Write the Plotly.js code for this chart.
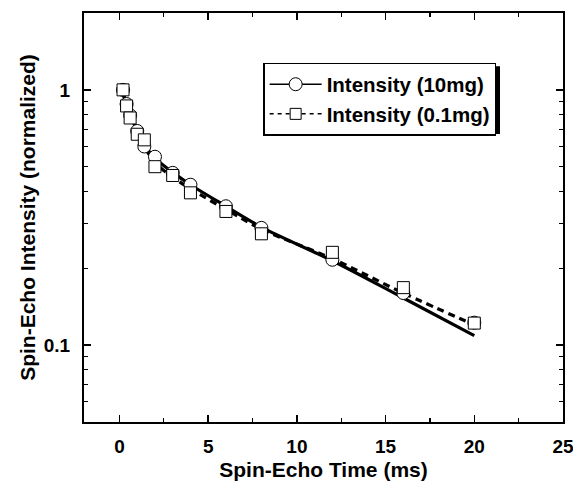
<!DOCTYPE html>
<html>
<head>
<meta charset="utf-8">
<script src="https://cdn.plot.ly/plotly-3.0.1.min.js"></script>
<style>html,body{margin:0;padding:0;background:#fff;}#chart{width:573px;height:484px;}</style>
</head>
<body>
<div id="chart"></div>
<script>
// Measured points
const time10 = [0.2, 0.4, 0.6, 1.0, 1.4, 2, 3, 4, 6, 8, 12, 16, 20];
const intensity10 = [1.0, 0.88, 0.795, 0.69, 0.60, 0.547, 0.473, 0.425, 0.35, 0.288, 0.216, 0.16, 0.1225];
const time01 = [0.2, 0.4, 0.6, 1.0, 1.4, 2, 3, 4, 6, 8, 12, 16, 20];
const intensity01 = [1.0, 0.865, 0.776, 0.67, 0.637, 0.50, 0.462, 0.395, 0.334, 0.273, 0.231, 0.168, 0.122];
// Fit curves
const fitTime10 = [0.2, 0.4, 0.6, 1.0, 1.4, 2, 3, 4, 6, 8, 12, 16, 20];
const fitIntensity10 = [0.97, 0.88, 0.80, 0.69, 0.61, 0.54, 0.475, 0.425, 0.35, 0.29, 0.214, 0.153, 0.109];
const fitTime01 = [0.2, 0.4, 0.6, 1.0, 1.4, 2, 3, 4, 6, 8, 12, 16, 20];
const fitIntensity01 = [0.97, 0.87, 0.79, 0.68, 0.60, 0.52, 0.455, 0.41, 0.34, 0.285, 0.218, 0.16, 0.12];
const seriesNames = ["Intensity (10mg)", "Intensity (0.1mg)"];
const xTickVals = [0, 5, 10, 15, 20, 25];
const yTickVals = [0.1, 1];
const yTickText = ["0.1", "1"];

const F = "Liberation Sans, Arial, sans-serif";
const traces = [
  {x: fitTime10, y: fitIntensity10, mode: "lines", line: {color: "#000", width: 3.2, shape: "spline"}, showlegend: false, hoverinfo: "skip"},
  {x: fitTime01, y: fitIntensity01, mode: "lines", line: {color: "#000", width: 3.2, dash: "7px,5px", shape: "spline"}, showlegend: false, hoverinfo: "skip"},
  {x: time10, y: intensity10, mode: "markers", marker: {symbol: "circle", size: 13, color: "#fff", line: {color: "#000", width: 1}}, showlegend: false},
  {x: time01, y: intensity01, mode: "markers", marker: {symbol: "square", size: 12, color: "#fff", line: {color: "#000", width: 1}}, showlegend: false},
  {x: [null], y: [null], name: seriesNames[0], mode: "lines+markers", line: {color: "#000", width: 1.5}, marker: {symbol: "circle", size: 13, color: "#fff", line: {color: "#000", width: 1}}},
  {x: [null], y: [null], name: seriesNames[1], mode: "lines+markers", line: {color: "#000", width: 1.5, dash: "4px,4px"}, marker: {symbol: "square", size: 11, color: "#fff", line: {color: "#000", width: 1}}}
];

const layout = {
  width: 573, height: 484,
  margin: {l: 84, r: 10, t: 13, b: 62},
  paper_bgcolor: "#fff", plot_bgcolor: "#fff",
  font: {family: F, color: "#000"},
  showlegend: true,
  xaxis: {
    range: [-2, 25], tickvals: xTickVals, ticktext: xTickVals.map(String),
    ticks: "inside", ticklen: 7, tickwidth: 1.5, tickcolor: "#000",
    showline: true, linewidth: 2, linecolor: "#000", mirror: "ticks",
    showgrid: false, zeroline: false, ticklabelstandoff: 6, ticklabeloverflow: "allow",
    tickfont: {family: F, size: 19, weight: "bold"},
    minor: {tickvals: [2.5, 7.5, 12.5, 17.5, 22.5], ticks: "inside", ticklen: 4, tickwidth: 1.2, tickcolor: "#000", showgrid: false},
    title: {text: "<b>Spin-Echo Time (ms)</b>", font: {family: F, size: 21}, standoff: 7}
  },
  yaxis: {
    type: "log", range: [Math.log10(0.05), Math.log10(2)],
    tickvals: yTickVals, ticktext: yTickText,
    ticks: "inside", ticklen: 7, tickwidth: 1.5, tickcolor: "#000",
    showline: true, linewidth: 2, linecolor: "#000", mirror: "ticks",
    showgrid: false, zeroline: false, ticklabelstandoff: 8,
    tickfont: {family: F, size: 19, weight: "bold"},
    minor: {tickvals: [0.06, 0.07, 0.08, 0.09, 0.2, 0.3, 0.4, 0.5, 0.6, 0.7, 0.8, 0.9, 2], ticks: "inside", ticklen: 4, tickwidth: 1.2, tickcolor: "#000", showgrid: false},
    title: {text: "<b>Spin-Echo Intensity (normalized)</b>", font: {family: F, size: 21}, standoff: 2}
  },
  legend: {
    x: 0.374, y: 0.878, xanchor: "left", yanchor: "top",
    bgcolor: "#fff", bordercolor: "#000", borderwidth: 1.5,
    font: {family: F, size: 20.5, weight: "bold"},
    itemwidth: 52, tracegroupgap: 0
  },
  shapes: [
    {type: "rect", xref: "paper", yref: "paper", x0: 0.380, x1: 0.8685, y0: 0.704, y1: 0.870, fillcolor: "#000", line: {width: 0}, layer: "above"}
  ]
};
Plotly.newPlot("chart", traces, layout, {displayModeBar: false, staticPlot: true});
</script>
</body>
</html>
